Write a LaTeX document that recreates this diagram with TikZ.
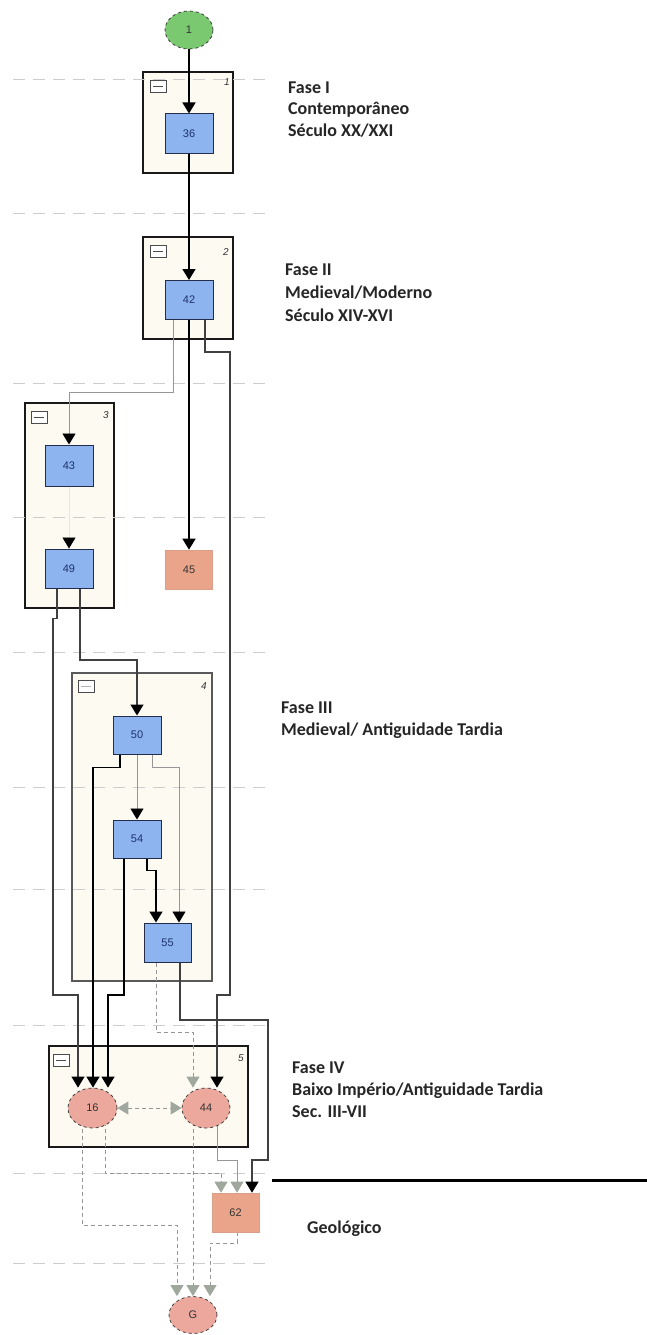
\documentclass[tikz,border=0pt]{standalone}
\usepackage{fontspec}
\setmainfont{Carlito}
\newfontfamily\lblfont{Liberation Sans}
\usetikzlibrary{arrows.meta,shapes.geometric,calc}
\pgfdeclarelayer{bg}
\pgfsetlayers{bg,main}
\definecolor{bluefill}{RGB}{141,180,238}
\definecolor{blueborder}{RGB}{35,45,75}
\definecolor{bluetext}{RGB}{30,50,110}
\definecolor{salmonrect}{RGB}{234,164,138}
\definecolor{salmonell}{RGB}{236,168,156}
\definecolor{greenfill}{RGB}{122,200,112}
\definecolor{creamfill}{RGB}{253,250,242}
\definecolor{tipgray}{RGB}{160,168,158}
\definecolor{linegray}{RGB}{150,150,150}
\definecolor{guidegray}{RGB}{205,205,205}
\tikzset{
  tip/.tip={Triangle[width=13pt,length=11pt]},
  bluebox/.style={draw=blueborder,line width=1pt,fill=bluefill,minimum width=48pt,minimum height=39pt,inner sep=0pt,
    font=\lblfont\fontsize{11}{13}\selectfont,text=bluetext},
  salbox/.style={draw=salmonrect!85!gray,line width=0.6pt,fill=salmonrect,minimum width=47pt,minimum height=39pt,inner sep=0pt,
    font=\lblfont\fontsize{11}{13}\selectfont,text=black!80},
  salell/.style={ellipse,draw=black!75,dashed,line width=0.8pt,fill=salmonell,minimum width=48pt,minimum height=40pt,inner sep=0pt,
    font=\lblfont\fontsize{11}{13}\selectfont,text=black!80},
  greenell/.style={ellipse,draw=black!75,dashed,line width=0.8pt,fill=greenfill,minimum width=48pt,minimum height=38pt,inner sep=0pt,
    font=\lblfont\fontsize{11}{13}\selectfont,text=black!80},
  container/.style={draw=black!90,line width=1.4pt,fill=creamfill},
  boxnum/.style={font=\lblfont\fontsize{10}{12}\selectfont\itshape,text=black!80,inner sep=0pt},
  iconbox/.style={draw=black!70,line width=0.7pt,fill=white},
  guide/.style={draw=guidegray,line width=1pt,dash pattern=on 12pt off 8pt},
  conn/.style={draw=black,line width=1.5pt,-{tip[black]}},
  medc/.style={draw=black!75,line width=1.1pt,-{tip[black]}},
  thinc/.style={draw=linegray,line width=0.9pt,-{tip[black]}},
  faintc/.style={draw=black!10,line width=0.5pt,-{tip[black]}},
  graysolid/.style={draw=linegray,line width=0.9pt,-{tip[tipgray]}},
  dashc/.style={draw=linegray,line width=1pt,dash pattern=on 4pt off 3pt,-{tip[tipgray]}},
  dashboth/.style={draw=linegray,line width=1pt,dash pattern=on 4pt off 3pt,{tip[tipgray]}-{tip[tipgray]}},
  phase/.style={font=\fontsize{18}{22}\selectfont\bfseries,text=black!85,inner sep=0pt,anchor=base west},
}
\begin{document}
\begin{tikzpicture}[x=1pt,y=-1pt]
\useasboundingbox (0,0) rectangle (647,1335);

% background, containers and guide lines
\begin{pgfonlayer}{bg}
  \fill[white] (0,0) rectangle (647,1335);
  \draw[container] (143,72) rectangle (233,173);
  \draw[container] (143,237) rectangle (233,339);
  \draw[container] (25,403) rectangle (114,608);
  \draw[container,draw=black!65] (72,673) rectangle (212,981);
  \draw[container] (49,1046) rectangle (248,1147);
  \foreach \yy in {80,213,383,517,652,787,889,1025,1173,1263}
    \draw[guide] (13,\yy) -- (268,\yy);
\end{pgfonlayer}

% container icons and numbers
\draw[iconbox] (150,80) rectangle (166,92); \draw[black!70] (153,86) -- (163,86);
\draw[iconbox] (150,245) rectangle (166,257); \draw[black!70] (153,251) -- (163,251);
\draw[iconbox] (31,411) rectangle (47,423); \draw[black!70] (34,417) -- (44,417);
\draw[iconbox] (78,680) rectangle (94,692); \draw[black!30] (81,686) -- (91,686);
\draw[iconbox] (53,1054) rectangle (69,1066); \draw[black!70] (56,1060) -- (66,1060);
\node[boxnum] (b1) at (227,82) {1};
\node[boxnum] (b2) at (226,252) {2};
\node[boxnum] (b3) at (106,415) {3};
\node[boxnum] (b4) at (204,686) {4};
\node[boxnum] (b5) at (241,1058) {5};

% nodes
\node[greenell] (n1) at (189,30) {1};
\node[bluebox] (n36) at (189,133.5) {36};
\node[bluebox] (n42) at (189,300) {42};
\node[bluebox,minimum height=41pt] (n43) at (69,465.5) {43};
\node[bluebox] (n49) at (69,568.5) {49};
\node[salbox] (n45) at (189,569.5) {45};
\node[bluebox,minimum height=38pt] (n50) at (137,735) {50};
\node[bluebox,minimum height=38pt] (n54) at (137,839) {54};
\node[bluebox,minimum width=47pt] (n55) at (167.5,942.5) {55};
\node[salell,minimum width=49pt] (n16) at (92.5,1108) {16};
\node[salell] (n44) at (206,1108) {44};
\node[salbox] (n62) at (235.5,1212.5) {62};
\node[salell,minimum height=37pt] (nG) at (193,1315) {G};

% connectors
\begin{pgfonlayer}{bg}
  \draw[conn] (n1.south) -- (n36.north);
  \draw[conn] (n36.south) -- (n42.north);
  \draw[thinc] ($(n42.south)+(-16,0)$) -- ++(0,72) -| (n43.north);
  \draw[conn] (n42.south) -- (n45.north);
  \draw[medc] ($(n42.south)+(16,0)$) -- ++(0,32) -- ++(25,0) -- (230,995) -| ($(n44.north)+(11,0)$);
  \draw[faintc] (n43.south) -- (n49.north);
  \draw[medc] ($(n49.south)+(-12,0)$) -- ++(0,30) -- ++(-4,0) -- (53,995) -| ($(n16.north)+(-14.5,0)$);
  \draw[medc,line width=1.3pt] ($(n49.south)+(11,0)$) -- (80,660) -| (n50.north);
  \draw[thinc] (n50.south) -- (n54.north);
  \draw[conn] ($(n50.south)+(-17,0)$) -- ++(0,13) -| ($(n16.north)+(0.5,0)$);
  \draw[thinc] ($(n50.south)+(15,0)$) -- ++(0,13) -| ($(n55.north)+(11.5,0)$);
  \draw[conn] ($(n54.south)+(10,0)$) -- ++(0,12) -| ($(n55.north)+(-11.5,0)$);
  \draw[conn] ($(n54.south)+(-13,0)$) -- (124,995) -| ($(n16.north)+(15.5,0)$);
  \draw[dashc] ($(n55.south)+(-11.5,0)$) -- (156,1032) -| ($(n44.north)+(-13,0)$);
  \draw[medc] ($(n55.south)+(12.5,0)$) -- (180,1020) -- (268,1020) -- (268,1160) -| ($(n62.north)+(16.5,0)$);
  \draw[dashboth] (n16.east) -- (n44.west);
  \draw[dashc] ($(n16.center)+(-10.5,0)$) -- (82,1225) -| ($(nG.north)+(-16,0)$);
  \draw[dashc] ($(n16.center)+(12.5,0)$) -- (105,1173) -| ($(n62.north)+(-14.5,0)$);
  \draw[dashc] ($(n44.center)+(-13,0)$) -- (nG.north);
  \draw[graysolid] ($(n44.center)+(11,0)$) -- (217,1160) -| ($(n62.north)+(1.5,0)$);
  \draw[dashc] ($(n62.south)+(1.5,0)$) -- (237,1243) -| ($(nG.north)+(17,0)$);
\end{pgfonlayer}

% geological separator
\coordinate (gA) at (272,1180);
\coordinate (gB) at (647,1180);
\draw[line width=3pt,black] (gA) -- (gB);

% phase texts
\node[phase] (f1a) at (288,94) {Fase I};
\node[phase] (f1b) at (288,115) {Contemporâneo};
\node[phase] (f1c) at (288,136) {Século XX/XXI};
\node[phase] (f2a) at (285,275) {Fase II};
\node[phase] (f2b) at (285,298) {Medieval/Moderno};
\node[phase] (f2c) at (285,321) {Século XIV-XVI};
\node[phase] (f3a) at (281,713) {Fase III};
\node[phase] (f3b) at (281,735) {Medieval/ Antiguidade Tardia};
\node[phase] (f4a) at (292,1073) {Fase IV};
\node[phase] (f4b) at (292,1095) {Baixo Império/Antiguidade Tardia};
\node[phase] (f4c) at (292,1117) {Sec. III-VII};
\node[phase] (geo) at (307,1233) {Geológico};
\end{tikzpicture}
\end{document}
